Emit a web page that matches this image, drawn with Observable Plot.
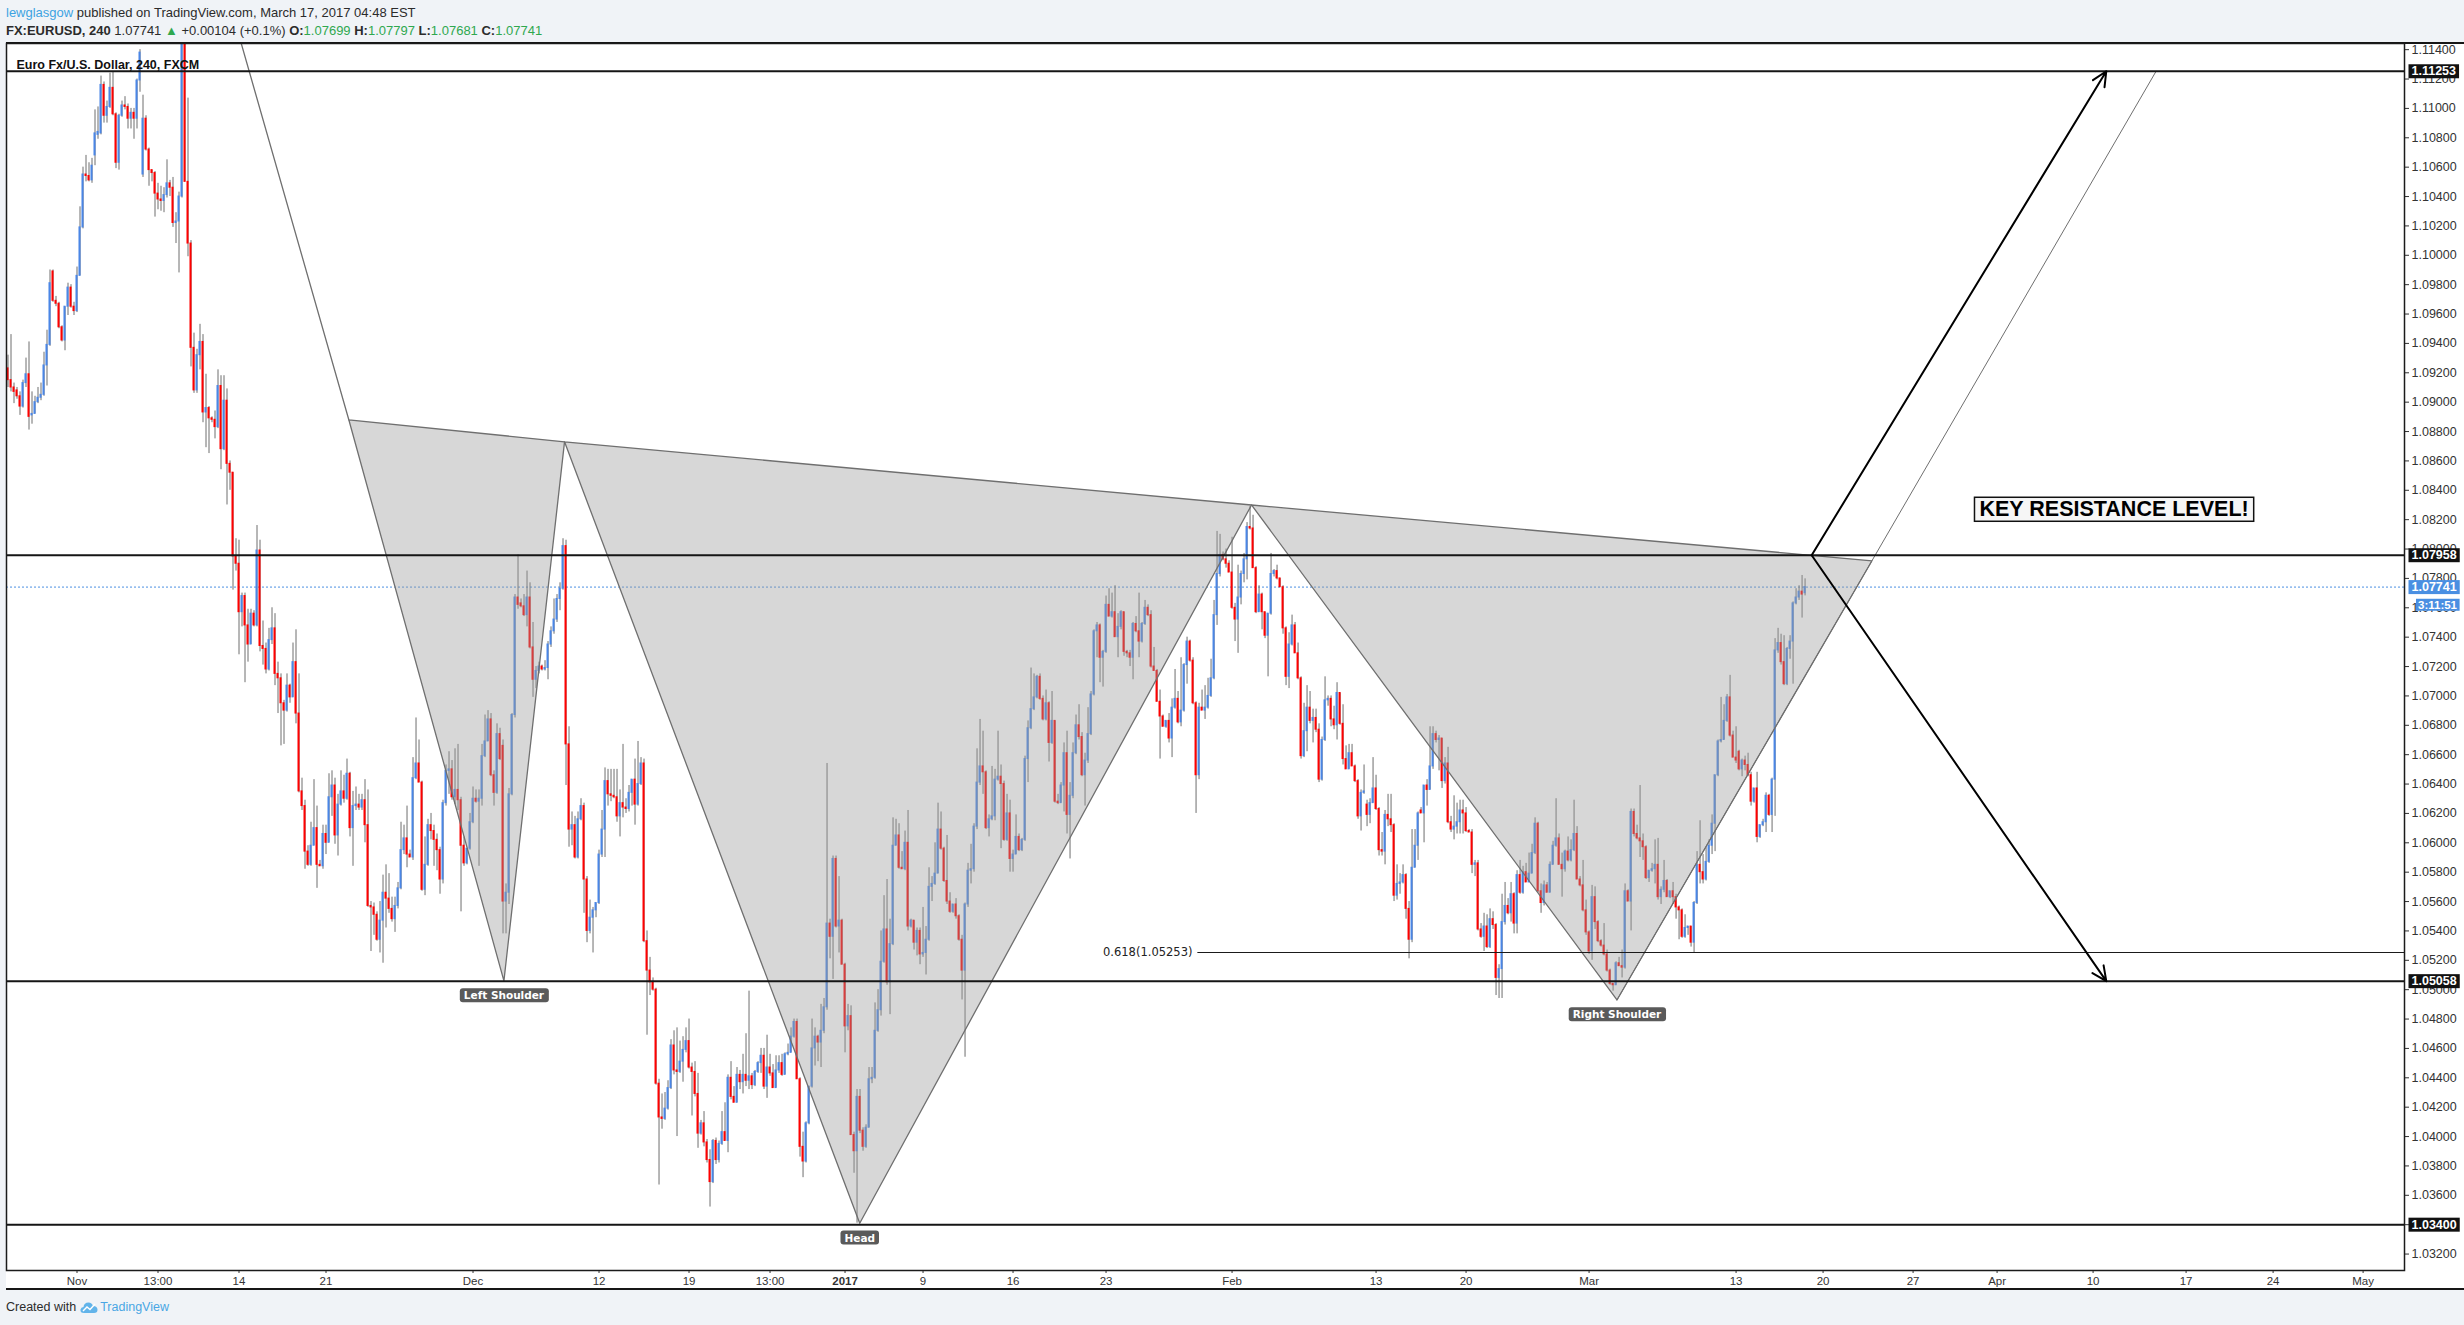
<!DOCTYPE html>
<html>
<head>
<meta charset="utf-8">
<script src="https://cdn.jsdelivr.net/npm/d3@7"></script>
<script src="https://cdn.jsdelivr.net/npm/@observablehq/plot@0.6"></script>
<style>
  html, body { margin: 0; padding: 0; }
  body { width: 2464px; height: 1325px; background: #f0f3f7; position: relative; overflow: hidden;
         font-family: "Liberation Sans", Arial, sans-serif; color: #2b2b2b; }
  #hdr1, #hdr2 { position: absolute; left: 6px; font-size: 13px; line-height: 17px; white-space: nowrap; }
  #hdr1 { top: 4px; }
  #hdr2 { top: 22px; }
  #hdr1 .user { color: #3ea3e2; }
  .g { color: #2fa84f; }
  #panel { position: absolute; left: 6px; top: 42px; width: 2458px; height: 1248px; background: #fff;
           border-top: 2px solid #161616; border-bottom: 2px solid #161616; box-sizing: border-box; }
  #chart { position: absolute; left: 0; top: 42px; }
  #footer { position: absolute; left: 6px; top: 1299px; font-size: 12.5px; line-height: 16px; color: #2b2b2b; white-space: nowrap; }
  #footer svg { vertical-align: -3px; margin: 0 2px 0 4px; }
  #footer .tv { color: #4aa6e4; }
</style>
</head>
<body>
<div id="hdr1"></div>
<div id="hdr2"></div>
<div id="panel"></div>
<div id="chart"></div>
<div id="footer">Created with<svg width="18" height="14" viewBox="0 0 18 14"><path d="M4 13 Q0 13 0.5 9.5 Q1 7 3.5 7 Q4 2.5 8.5 2.5 Q12 2.5 13 6 Q17.5 6 17.5 9.8 Q17.5 13 14 13 Z" fill="#62b4ea"/><path d="M3 11 L7 7 L10 9.5 L15 4" stroke="#fff" stroke-width="1.4" fill="none"/></svg><span class="tv">TradingView</span></div>

<script>
// ---------------- DATA ----------------
// EUR/USD 240-minute candles (FXCM), values in 1/10000 (pips): [open, high, low, close]
const barsLateOctToNov14 = [
[10923,10932,10910,10915],[10915,10946,10907,10910],[10910,10913,10899,10907],[10908,10910,10902,10904],[10904,10907,10891,10897],
[10897,10915,10896,10913],[10913,10930,10910,10919],[10919,10941,10881,10890],[10891,10907,10885,10892],[10892,10904,10892,10900],
[10900,10910,10899,10903],[10903,10913,10901,10905],[10905,10934,10904,10925],[10925,10949,10911,10939],[10939,10990,10938,10981],
[10989,10990,10968,10969],[10969,10972,10965,10967],[10967,10968,10950,10951],[10951,10952,10941,10942],[10942,10965,10935,10965],
[10965,10981,10959,10978],[10978,10980,10964,10965],[10965,10968,10959,10962],[10962,10992,10961,10986],[10986,11033,10986,11019],
[11019,11060,11018,11055],[11055,11068,11050,11054],[11054,11063,11050,11051],[11051,11066,11049,11061],[11068,11099,11061,11083],
[11082,11101,11079,11084],[11083,11122,11082,11116],[11116,11118,11090,11095],[11095,11105,11090,11101],[11101,11124,11100,11114],
[11114,11125,11095,11096],[11096,11097,11059,11063],[11063,11096,11058,11095],[11095,11105,11094,11102],[11102,11108,11099,11101],
[11101,11103,11086,11093],[11093,11100,11086,11097],[11097,11100,11079,11093],[11093,11120,11086,11119],[11119,11140,11111,11138],
[11055,11109,11053,11093],[11093,11095,11071,11072],[11072,11073,11047,11058],[11058,11058,11050,11056],[11056,11057,11026,11042],
[11042,11049,11031,11038],[11038,11047,11030,11037],[11037,11046,11029,11041],[11041,11065,11039,11049],[11049,11051,11040,11046],
[11046,11053,11019,11022],[11022,11029,11008,11023],[11023,11043,10988,11040],[11040,11300,11039,11210],[11210,11240,11050,11050],
[11050,11107,10999,11008],[11008,11010,10924,10937],[10937,10947,10906,10908],[10908,10936,10906,10932],[10932,10953,10922,10941],
[10941,10946,10886,10893],[10893,10919,10869,10896],[10896,10897,10865,10889],[10889,10890,10886,10888],[10888,10894,10875,10883],
[10883,10922,10882,10911],[10911,10918,10854,10868],[10868,10918,10867,10901],[10901,10909,10830,10858],[10858,10860,10840,10852],
[10852,10852,10772,10795],[10795,10807,10785,10790],[10790,10806,10728,10757]
];
const barsNov14ToDec1 = [
[10757,10770,10747,10768],[10768,10770,10709,10748],[10748,10759,10723,10735],[10735,10759,10735,10756],[10756,10758,10747,10748],
[10748,10816,10747,10799],[10799,10806,10730,10734],[10734,10751,10721,10732],[10732,10736,10715,10718],[10718,10746,10717,10738],
[10738,10760,10735,10746],[10746,10756,10707,10715],[10715,10723,10688,10712],[10712,10715,10666,10695],[10695,10697,10667,10690],
[10690,10715,10689,10707],[10707,10708,10695,10699],[10699,10736,10699,10723],[10723,10745,10681,10688],[10688,10715,10634,10635],
[10635,10644,10622,10625],[10625,10629,10582,10594],[10594,10598,10584,10585],[10585,10614,10584,10598],[10598,10643,10598,10610],
[10610,10625,10569,10585],[10585,10588,10584,10584],[10584,10612,10582,10606],[10606,10612,10592,10600],[10600,10647,10600,10631],
[10631,10649,10618,10639],[10639,10644,10599,10605],[10605,10633,10591,10626],[10626,10649,10625,10635],[10635,10646,10627,10630],
[10630,10657,10629,10647],[10647,10648,10604,10610],[10610,10635,10584,10625],[10625,10638,10622,10626],[10626,10633,10622,10624],
[10624,10633,10622,10629],[10629,10643,10600,10612],[10612,10636,10556,10557],[10557,10560,10526,10556],[10556,10559,10537,10551],
[10551,10553,10533,10534],[10534,10560,10525,10547],[10547,10578,10518,10566],[10566,10585,10542,10562],[10562,10579,10552,10555],
[10555,10563,10546,10548],[10548,10563,10539,10557],[10557,10573,10555,10569],[10569,10614,10568,10595],[10595,10612,10592,10603],
[10603,10625,10583,10592],[10592,10595,10590,10590],[10590,10658,10588,10644],[10644,10685,10643,10654],[10654,10670,10641,10641],
[10641,10642,10567,10568],[10568,10604,10564,10585],[10585,10616,10584,10612],[10612,10620,10602,10608],[10608,10612,10584,10602],
[10602,10606,10581,10595],[10595,10597,10565,10575],[10575,10629,10572,10627],[10627,10653,10625,10649],[10649,10662,10633,10650],
[10650,10656,10629,10631],[10631,10664,10626,10636],[10636,10667,10622,10629],[10629,10631,10553,10598],[10598,10604,10584,10586],
[10586,10596,10585,10596],[10596,10620,10595,10614],[10614,10638,10613,10630],[10630,10636,10627,10628],[10628,10636,10584,10630]
];
const barsDec1ToDec20 = [
[10630,10667,10625,10659],[10659,10687,10658,10669],[10669,10690,10669,10684],[10684,10688,10645,10646],[10646,10649,10625,10634],
[10634,10681,10633,10674],[10674,10678,10656,10657],[10666,10670,10538,10560],[10560,10572,10538,10566],[10566,10637,10558,10633],
[10633,10688,10632,10687],[10687,10769,10685,10767],[10767,10796,10759,10762],[10763,10766,10760,10761],[10761,10769,10754,10755],
[10755,10785,10747,10767],[10767,10777,10732,10733],[10733,10750,10699,10711],[10711,10720,10705,10717],[10717,10723,10715,10720],
[10720,10721,10717,10718],[10718,10724,10717,10719],[10719,10737,10711,10735],[10735,10747,10733,10744],[10744,10766,10742,10752],
[10752,10769,10750,10766],[10766,10777,10758,10773],[10773,10807,10772,10802],[10802,10806,10639,10667],[10667,10679,10597,10609],
[10609,10621,10598,10612],[10612,10618,10589,10590],[10590,10621,10589,10616],[10616,10630,10615,10625],[10625,10627,10552,10575],
[10575,10577,10532,10540],[10540,10561,10538,10549],[10549,10556,10525,10554],[10554,10559,10549,10559],[10559,10595,10558,10592],
[10592,10622,10590,10609],[10609,10651,10590,10642],[10642,10650,10625,10633],[10633,10650,10628,10632],[10632,10650,10630,10631],
[10631,10650,10614,10618],[10618,10636,10604,10627],[10627,10667,10617,10624],[10624,10630,10620,10623],[10623,10639,10621,10634],
[10634,10643,10625,10643],[10643,10657,10612,10626],[10626,10669,10625,10640],[10640,10658,10639,10654],[10654,10657,10532,10533],
[10533,10540,10469,10513],[10513,10522,10496,10505],[10505,10508,10499,10500],[10500,10501,10435,10436],[10436,10439,10367,10413],
[10413,10429,10405,10412],[10412,10430,10411,10419],[10419,10438,10418,10433],[10433,10466,10432,10462],[10462,10472,10442,10445],
[10445,10474,10400,10444],[10444,10465,10443,10451],[10451,10468,10437,10459],[10459,10474,10457,10465],[10465,10480,10446,10447],
[10447,10450,10414,10444],[10444,10451,10427,10429],[10429,10443,10392,10402],[10402,10411,10401,10409],[10409,10417,10393,10396],
[10396,10398,10382,10384],[10384,10391,10352,10369],[10369,10398,10368,10397],[10397,10399,10381,10384]
];
const barsDec20ToJan11 = [
[10384,10397,10382,10395],[10395,10417,10394,10403],[10403,10423,10397,10397],[10397,10442,10389,10440],[10440,10451,10425,10427],
[10427,10434,10423,10423],[10423,10447,10423,10442],[10442,10445,10432,10437],[10437,10456,10429,10442],[10442,10470,10434,10438],
[10438,10499,10432,10441],[10441,10443,10432,10435],[10435,10445,10434,10444],[10444,10451,10443,10450],[10450,10460,10443,10455],
[10455,10460,10432,10434],[10434,10469,10426,10447],[10447,10456,10441,10443],[10443,10449,10433,10433],[10433,10455,10433,10445],
[10445,10455,10443,10450],[10450,10456,10441,10442],[10442,10457,10442,10456],[10456,10463,10455,10457],[10457,10474,10457,10468],
[10468,10480,10467,10478],[10478,10480,10439,10439],[10439,10440,10386,10393],[10393,10403,10372,10383],[10383,10410,10382,10409],
[10409,10434,10408,10434],[10434,10480,10433,10460],[10460,10474,10448,10468],[10468,10469,10451,10464],[10464,10490,10447,10472],
[10472,10494,10470,10488],[10488,10654,10486,10545],[10545,10548,10521,10536],[10536,10591,10507,10589],[10589,10591,10542,10543],
[10543,10577,10525,10547],[10547,10548,10517,10517],[10517,10518,10457,10475],[10475,10490,10472,10482],[10482,10489,10401,10401],
[10401,10403,10375,10390],[10390,10432,10341,10427],[10427,10432,10402,10404],[10404,10406,10390,10393],[10393,10408,10392,10406],
[10406,10447,10406,10439],[10439,10447,10436,10440],[10440,10491,10439,10472],[10472,10500,10471,10486],[10486,10540,10482,10519],
[10519,10564,10518,10541],[10541,10575,10503,10505],[10505,10548,10483,10531],[10531,10617,10530,10598],[10598,10616,10598,10605],
[10605,10613,10582,10583],[10583,10594,10582,10582],[10582,10608,10581,10600],[10600,10622,10540,10543],[10543,10548,10542,10547],
[10547,10547,10527,10532],[10532,10542,10523,10540],[10540,10542,10517,10524],[10524,10556,10522,10525],[10525,10543,10510,10534],
[10534,10583,10533,10570],[10570,10577,10560,10572],[10572,10600,10571,10579],[10579,10627,10579,10609],[10609,10621,10595,10596],
[10596,10597,10573,10574],[10574,10605,10558,10560],[10560,10566,10552,10553],[10553,10558,10552,10558],[10558,10562,10548,10550]
];
const barsJan11ToJan31 = [
[10550,10551,10533,10534],[10534,10537,10493,10513],[10513,10559,10454,10558],[10558,10586,10556,10581],[10581,10599,10572,10582],
[10582,10613,10580,10611],[10611,10664,10609,10641],[10641,10684,10639,10652],[10652,10676,10633,10648],[10648,10649,10609,10610],
[10610,10619,10604,10616],[10616,10652,10615,10618],[10618,10650,10615,10643],[10643,10676,10642,10645],[10645,10653,10596,10640],
[10640,10642,10601,10602],[10602,10633,10601,10620],[10620,10629,10580,10589],[10589,10595,10580,10592],[10592,10619,10592,10604],
[10604,10606,10594,10595],[10595,10603,10594,10602],[10602,10659,10601,10657],[10657,10683,10641,10678],[10678,10719,10677,10691],
[10691,10715,10690,10699],[10699,10714,10698,10713],[10713,10715,10697,10698],[10698,10700,10683,10684],[10684,10704,10683,10695],
[10695,10696,10655,10668],[10668,10703,10667,10683],[10683,10683,10627,10628],[10628,10633,10626,10627],[10627,10641,10627,10639],
[10639,10668,10621,10661],[10661,10676,10606,10619],[10619,10641,10589,10632],[10632,10668,10630,10661],[10661,10687,10660,10680],
[10680,10694,10670,10672],[10672,10675,10645,10646],[10646,10661,10625,10656],[10656,10692,10654,10674],[10674,10703,10673,10701],
[10701,10745,10700,10744],[10744,10750,10726,10748],[10748,10749,10709,10726],[10726,10731,10706,10730],[10730,10768,10729,10762],
[10762,10773,10754,10754],[10754,10770,10753,10757],[10757,10775,10740,10740],[10740,10756,10726,10747],[10747,10758,10745,10757],
[10757,10757,10727,10730],[10730,10731,10726,10729],[10729,10731,10720,10726],[10726,10750,10711,10749],[10749,10754,10743,10744],
[10744,10770,10726,10737],[10737,10750,10736,10749],[10749,10765,10748,10760],[10760,10762,10754,10755],[10755,10758,10719,10720],
[10720,10733,10717,10717],[10717,10718,10696,10696],[10696,10704,10657,10686],[10686,10687,10679,10679],[10679,10683,10678,10683],
[10683,10688,10668,10671],[10671,10698,10658,10692],[10692,10718,10691,10698],[10698,10703,10681,10682],[10682,10726,10679,10690],
[10690,10722,10689,10721],[10721,10740,10708,10737],[10737,10738,10723,10724],[10724,10726,10694,10695],[10695,10696,10620,10646]
];
const barsJan31ToFeb17 = [
[10646,10695,10643,10692],[10692,10704,10690,10690],[10690,10707,10684,10692],[10692,10712,10691,10700],[10700,10725,10699,10712],
[10712,10765,10711,10755],[10755,10812,10748,10783],[10783,10810,10781,10796],[10796,10798,10792,10793],[10793,10800,10787,10790],
[10790,10792,10784,10784],[10784,10808,10759,10760],[10760,10763,10737,10752],[10752,10789,10729,10767],[10767,10785,10762,10783],
[10783,10797,10777,10793],[10793,10818,10779,10815],[10815,10829,10813,10814],[10814,10823,10787,10787],[10787,10788,10756,10757],
[10757,10775,10757,10769],[10769,10770,10745,10757],[10757,10757,10739,10741],[10741,10756,10713,10756],[10756,10797,10755,10783],
[10783,10786,10781,10785],[10785,10789,10779,10780],[10780,10780,10774,10774],[10774,10775,10742,10746],[10746,10747,10707,10713],
[10713,10743,10705,10735],[10735,10755,10734,10748],[10748,10750,10729,10729],[10729,10736,10711,10712],[10712,10713,10657,10659],
[10659,10695,10658,10676],[10676,10707,10662,10692],[10692,10703,10681,10683],[10683,10691,10668,10685],[10685,10691,10675,10677],
[10677,10681,10641,10643],[10643,10672,10642,10670],[10670,10713,10669,10697],[10697,10700,10693,10698],[10698,10700,10679,10684],
[10684,10693,10677,10680],[10680,10709,10670,10702],[10702,10702,10680,10681],[10681,10694,10653,10657],[10657,10666,10650,10650],
[10650,10667,10650,10661],[10661,10667,10652,10652],[10652,10653,10641,10642],[10642,10643,10616,10618],[10618,10636,10608,10634],
[10634,10653,10633,10635],[10626,10629,10611,10619],[10619,10630,10613,10627],[10627,10658,10627,10637],[10637,10646,10622,10623],
[10623,10624,10591,10595],[10595,10607,10591,10594],[10594,10622,10585,10619],[10619,10633,10611,10616],[10616,10633,10607,10612],
[10612,10613,10560,10564],[10564,10585,10561,10572],[10572,10579,10565,10573],[10573,10585,10572,10578],[10578,10579,10548,10555],
[10555,10560,10521,10534],[10534,10609,10532,10583],[10583,10609,10583,10598],[10598,10621,10588,10620],[10622,10624,10620,10620],
[10620,10639,10600,10639],[10639,10643,10625,10636],[10636,10679,10636,10652],[10652,10679,10650,10674]
];
const barsFeb17ToMar8 = [
[10674,10676,10668,10670],[10670,10673,10649,10671],[10671,10671,10637,10642],[10642,10658,10640,10654],[10654,10665,10613,10614],
[10614,10618,10607,10609],[10609,10632,10602,10611],[10611,10627,10606,10614],[10614,10629,10606,10622],[10622,10629,10606,10620],
[10620,10624,10607,10608],[10608,10609,10607,10607],[10607,10609,10579,10585],[10585,10588,10577,10586],[10586,10588,10540,10541],
[10541,10545,10535,10536],[10536,10552,10526,10543],[10543,10551,10528,10529],[10529,10555,10528,10548],[10548,10553,10541,10544],
[10544,10545,10496,10508],[10508,10517,10494,10514],[10514,10565,10494,10546],[10546,10573,10544,10557],[10557,10562,10551,10552],
[10552,10573,10546,10565],[10565,10566,10538,10545],[10545,10581,10538,10578],[10578,10588,10565,10566],[10566,10584,10565,10580],
[10580,10586,10573,10573],[10573,10593,10573,10579],[10579,10599,10579,10593],[10593,10617,10592,10613],[10613,10614,10566,10567],
[10567,10572,10552,10559],[10559,10574,10557,10571],[10571,10573,10566,10566],[10566,10587,10566,10585],[10585,10601,10585,10598],
[10598,10630,10597,10603],[10603,10606,10585,10585],[10585,10593,10563,10582],[10582,10595,10580,10594],[10594,10604,10587,10588],
[10588,10602,10587,10595],[10595,10629,10594,10606],[10606,10611,10575,10575],[10575,10577,10570,10571],[10571,10588,10553,10554],
[10554,10561,10537,10539],[10539,10540,10524,10526],[10526,10571,10520,10563],[10563,10570,10541,10546],[10546,10547,10532,10533],
[10533,10534,10529,10530],[10530,10545,10523,10524],[10524,10527,10512,10513],[10513,10514,10503,10504],[10504,10504,10499,10503],
[10503,10519,10503,10518],[10518,10522,10516,10516],[10516,10527,10508,10515],[10515,10572,10514,10567],[10567,10568,10560,10560],
[10560,10623,10540,10621],[10621,10623,10604,10606],[10606,10612,10602,10603],[10603,10639,10590,10601],[10601,10606,10588,10597],
[10597,10598,10575,10576],[10576,10581,10573,10581],[10581,10586,10580,10582],[10582,10602,10572,10585],[10585,10603,10561,10563],
[10563,10570,10558,10568],[10568,10588,10566,10574],[10574,10575,10563,10563],[10563,10567,10562,10567]
];
const barsMar8ToMar17 = [
[10567,10573,10558,10563],[10563,10565,10548,10556],[10556,10557,10534,10554],[10554,10555,10535,10536],[10536,10551,10535,10542],
[10542,10543,10537,10543],[10543,10543,10529,10532],[10532,10560,10525,10559],[10559,10594,10558,10585],[10585,10615,10572,10580],
[10580,10592,10572,10575],[10575,10597,10574,10587],[10587,10602,10586,10598],[10598,10619,10592,10613],[10613,10646,10594,10646],
[10646,10670,10645,10669],[10669,10699,10668,10670],[10670,10694,10670,10683],[10683,10701,10682,10699],[10699,10714,10672,10673],
[10673,10676,10658,10658],[10658,10679,10654,10656],[10662,10663,10649,10650],[10650,10657,10645,10656],[10656,10659,10649,10653],
[10653,10661,10645,10646],[10646,10648,10625,10628],[10628,10637,10627,10637],[10637,10648,10600,10604],[10604,10612,10603,10612],
[10612,10616,10611,10614],[10614,10634,10607,10632],[10632,10633,10618,10619],[10619,10644,10607,10643],[10643,10739,10618,10731],
[10731,10746,10729,10736],[10736,10742,10721,10723],[10723,10741,10707,10708],[10708,10733,10707,10732],[10732,10741,10725,10737],
[10737,10764,10708,10763],[10763,10773,10762,10767],[10767,10775,10765,10771],[10771,10782,10753,10769],[10769.9,10779.7,10768.1,10774.1]
];

// x axis: bar index of each time label, and the label
const xTickBars   = [23, 50, 77, 106, 155, 197, 227, 254, 279, 305, 335, 366, 408, 456, 486, 527, 576, 605, 635, 663, 695, 726, 755, 785];
const xTickLabels = ["Nov","13:00","14","21","Dec","12","19","13:00","2017","9","16","23","Feb","13","20","Mar","13","20","27","Apr","10","17","24","May"];
// y axis price ticks
const yTicks = [1.032,1.034,1.036,1.038,1.040,1.042,1.044,1.046,1.048,1.050,1.052,1.054,1.056,1.058,1.060,1.062,1.064,1.066,1.068,1.070,
                1.072,1.074,1.076,1.078,1.080,1.082,1.084,1.086,1.088,1.090,1.092,1.094,1.096,1.098,1.100,1.102,1.104,1.106,1.108,1.110,1.112,1.114];
const visibleBars = [-0.5, 798.8];
const visiblePrices = [1.03088, 1.11442];

// horizontal levels
const keyLevels = [1.11253, 1.07958, 1.05058, 1.03400];
const fibLevel = {bar: 396.6, endBar: 798.8, price: 1.05253, label: "0.618(1.05253)", labelBar: 394.8};
const lastPrice = 1.07741;
const countdown = "3:11:51";

// head & shoulders pattern points [bar, price]
const hsPoints = [[77.5, 1.1146], [113.6, 1.0888], [165.3, 1.0506], [185.5, 1.0873], [283.9, 1.0341], [414.5, 1.0830], [536.3, 1.0493], [621.3, 1.0792]];
const hsLabels = [{p: 2, text: "Left Shoulder"}, {p: 4, text: "Head"}, {p: 6, text: "Right Shoulder"}];
const shoulderExtension = [[536.3, 1.0493], [716.0, 1.11253]];
const projectionArrows = [
  {from: [601.2, 1.07958], to: [699.4, 1.11253]},
  {from: [601.2, 1.07958], to: [699.4, 1.05058]}
];
const note = {bar: 702, price: 1.0827, text: "KEY RESISTANCE LEVEL!"};

// ---------------- BUILD ----------------
const pip = v => v / 10000;
const rows = [...barsLateOctToNov14, ...barsNov14ToDec1, ...barsDec1ToDec20, ...barsDec20ToJan11,
              ...barsJan11ToJan31, ...barsJan31ToFeb17, ...barsFeb17ToMar8, ...barsMar8ToMar17];
const candles = rows.map(([o, h, l, c], i) => ({i, o: pip(o), h: pip(h), l: pip(l), c: pip(c)}));
const upC = candles.filter(d => d.c >= d.o);
const dnC = candles.filter(d => d.c < d.o);
const last = candles[candles.length - 1];
const f5 = d3.format(".5f");

document.getElementById("hdr1").innerHTML =
  '<span class="user">lewglasgow</span> published on TradingView.com, March 17, 2017 04:48 EST';
document.getElementById("hdr2").innerHTML =
  `<b>FX:EURUSD, 240</b> ${f5(last.c)} <span class="g">&#9650;</span> +0.00104 (+0.1%) ` +
  `<b>O:</b><span class="g">${f5(last.o)}</span> <b>H:</b><span class="g">${f5(last.h)}</span> ` +
  `<b>L:</b><span class="g">${f5(last.l)}</span> <b>C:</b><span class="g">${f5(last.c)}</span>`;

const tris = [[1, 2, 3], [3, 4, 5], [5, 6, 7]];
const triPts = tris.flatMap((t, k) => [...t, t[0]].map(j => ({tri: k, x: hsPoints[j][0], y: hsPoints[j][1]})));
const legPts = [0, 1].map(j => ({x: hsPoints[j][0], y: hsPoints[j][1]}));
const extPts = shoulderExtension.map(([x, y]) => ({x, y}));
const labelOf = new Map(xTickBars.map((b, k) => [b, xTickLabels[k]]));

const UP = "#4a86e6", DOWN = "#ff0000", WICK = "#6e6e6e";
const VFONT = "'DejaVu Sans', Verdana, sans-serif";
const AXFS = 12.5;

const chart = Plot.plot({
  width: 2464, height: 1248,
  marginLeft: 6, marginRight: 60, marginTop: 1, marginBottom: 20,
  style: {background: "transparent", fontFamily: "'Liberation Sans', Arial, sans-serif", fontSize: "11px", color: "#222", overflow: "visible"},
  x: {type: "linear", domain: visibleBars},
  y: {type: "linear", domain: visiblePrices},
  marks: [
    Plot.axisY({anchor: "right", ticks: yTicks, tickFormat: f5, tickSize: 4, tickPadding: 3, fontSize: AXFS, label: null, color: "#333"}),
    Plot.axisX({ticks: xTickBars, tickFormat: b => labelOf.get(b), tickSize: 3, tickPadding: 3, fontSize: 11.5, label: null, color: "#333"}),
    Plot.ruleY([lastPrice], {stroke: "#4a8fe2", strokeWidth: 1, strokeDasharray: "2,2"}),
    Plot.ruleX(candles, {x: "i", y1: "l", y2: "h", stroke: WICK, strokeWidth: 1, clip: true}),
    Plot.rect(upC, {x1: d => d.i - 0.34, x2: d => d.i + 0.34, y1: "o", y2: "c", fill: UP, insetTop: -0.5, insetBottom: -0.5, clip: true}),
    Plot.rect(dnC, {x1: d => d.i - 0.34, x2: d => d.i + 0.34, y1: "o", y2: "c", fill: DOWN, insetTop: -0.5, insetBottom: -0.5, clip: true}),
    Plot.line(triPts, {x: "x", y: "y", z: "tri", fill: "#9b9b9b", fillOpacity: 0.4, stroke: "#6f6f6f", strokeWidth: 1.3, curve: "linear", clip: true}),
    Plot.line(legPts, {x: "x", y: "y", stroke: "#6f6f6f", strokeWidth: 1.3, clip: true}),
    Plot.line(extPts, {x: "x", y: "y", stroke: "#6f6f6f", strokeWidth: 1, clip: true}),
    Plot.ruleY(keyLevels, {stroke: "#151515", strokeWidth: 2}),
    Plot.ruleY([fibLevel], {y: "price", x1: "bar", x2: "endBar", stroke: "#1a1a1a", strokeWidth: 1}),
    Plot.text([fibLevel], {x: "labelBar", y: "price", text: "label", textAnchor: "end", fontSize: 11.5, fontFamily: VFONT, fill: "#222"}),
    Plot.arrow(projectionArrows, {x1: d => d.from[0], y1: d => d.from[1], x2: d => d.to[0], y2: d => d.to[1],
      stroke: "#000", strokeWidth: 2, headLength: 12, headAngle: 50}),
    Plot.text(hsLabels, {x: d => hsPoints[d.p][0], y: d => hsPoints[d.p][1], text: "text", dy: 15,
      fill: "#fff", fontSize: 10.5, fontWeight: "bold", fontFamily: VFONT}),
    Plot.text([note], {x: "bar", y: "price", text: "text", fontSize: 21.5, fontWeight: "bold", fill: "#000"}),
    Plot.text(["Euro Fx/U.S. Dollar, 240, FXCM"], {frameAnchor: "top-left", text: d => d, dx: 10, dy: 17,
      textAnchor: "start", fontSize: 12.5, fontWeight: "bold", fill: "#111"}),
    Plot.text(keyLevels, {y: d => d, text: d => f5(d), frameAnchor: "right", dx: 7, textAnchor: "start",
      fontSize: AXFS, fontWeight: "bold", fill: "#fff"}),
    Plot.text([lastPrice], {y: d => d, text: d => f5(d), frameAnchor: "right", dx: 7, textAnchor: "start",
      fontSize: AXFS, fontWeight: "bold", fill: "#fff"}),
    Plot.text([lastPrice], {y: d => d, text: () => countdown, frameAnchor: "right", dx: 33, dy: 18, textAnchor: "middle",
      fontSize: 11.5, fontWeight: "bold", fill: "#fff"}),
    Plot.frame({stroke: "#1b1b1b", strokeWidth: 1.5})
  ]
});
document.getElementById("chart").appendChild(chart);

// Background boxes behind certain texts (found by content, skipping axis tick labels)
const NS = "http://www.w3.org/2000/svg";
function findTexts(strings) {
  const out = [];
  chart.querySelectorAll("text").forEach(t => {
    if (!strings.includes(t.textContent)) return;
    let p = t.parentNode, isAxis = false;
    while (p && p !== chart) {
      const al = p.getAttribute && (p.getAttribute("aria-label") || "");
      if (/axis/.test(al)) { isAxis = true; break; }
      p = p.parentNode;
    }
    if (!isAxis) out.push(t);
  });
  return out;
}
function boxes(strings, {fill, stroke = "none", sw = 0, px = 3, py = 1, rx = 0}) {
  findTexts(strings).forEach(t => {
    const b = t.getBBox();
    const r = document.createElementNS(NS, "rect");
    r.setAttribute("x", b.x - px);
    r.setAttribute("y", b.y - py);
    r.setAttribute("width", b.width + 2 * px);
    r.setAttribute("height", b.height + 2 * py);
    r.setAttribute("rx", rx);
    r.setAttribute("fill", fill);
    r.setAttribute("fill-opacity", 1);
    r.setAttribute("stroke", stroke);
    r.setAttribute("stroke-width", sw);
    if (t.getAttribute("transform")) r.setAttribute("transform", t.getAttribute("transform"));
    t.parentNode.insertBefore(r, t);
  });
}
boxes(hsLabels.map(d => d.text), {fill: "#5a5a5a", px: 4, py: 1, rx: 3});
boxes([note.text], {fill: "#f6f6f6", stroke: "#111", sw: 1.5, px: 5, py: 0});
boxes(keyLevels.map(f5), {fill: "#111", px: 3, py: 0});
boxes([f5(lastPrice)], {fill: "#4a8fe2", px: 3, py: 0});
boxes([countdown], {fill: "#4a8fe2", px: 2, py: 0});

// bold year label on the time axis
chart.querySelectorAll("text").forEach(t => { if (t.textContent === "2017") t.setAttribute("font-weight", "bold"); });
</script>
</body>
</html>
